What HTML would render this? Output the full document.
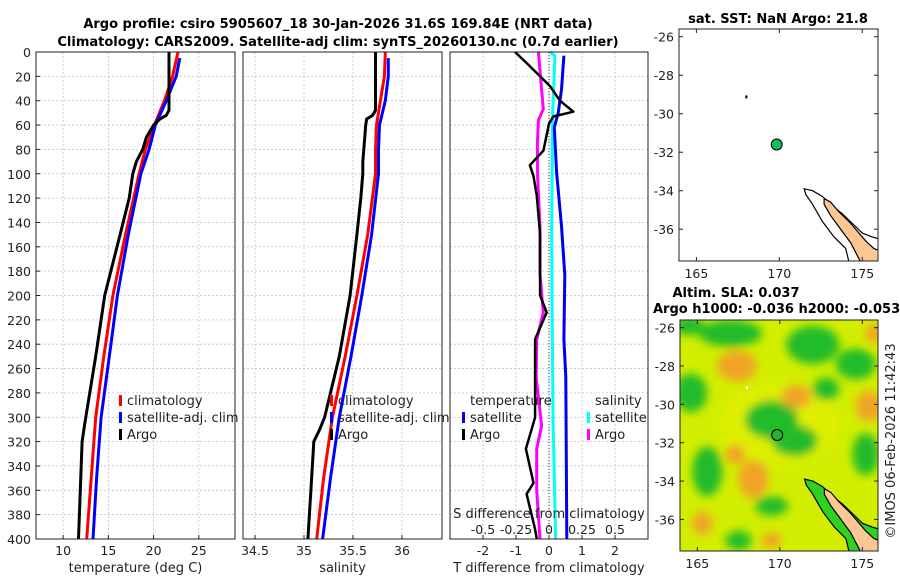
<!DOCTYPE html>
<html><head><meta charset="utf-8"><style>
html,body{margin:0;padding:0;background:#fff;}
svg{display:block;font-family:"DejaVu Sans","Liberation Sans",sans-serif;}
</style></head><body>
<svg id="chart" width="900" height="580" viewBox="0 0 900 580" xmlns="http://www.w3.org/2000/svg">
<defs>
<filter id="blur" x="-20%" y="-20%" width="140%" height="140%"><feGaussianBlur stdDeviation="4.5"/></filter>
<clipPath id="clipMap1"><rect x="679" y="29" width="199" height="232"/></clipPath>
<clipPath id="clipMap2"><rect x="680" y="320" width="198" height="231"/></clipPath>
</defs>
<g font-weight="bold" font-size="13" text-anchor="middle" fill="#000">
<text x="338" y="28">Argo profile: csiro 5905607_18 30-Jan-2026 31.6S 169.84E (NRT data)</text>
<text x="338" y="46">Climatology: CARS2009. Satellite-adj clim: synTS_20260130.nc (0.7d earlier)</text>
</g>
<g id="plots"></g>
</svg>
<script>
// depth levels (m)
const depthT = [0,5,20,40,48,52,55,60,70,80,90,100,120,150,200,250,300,310,320,360,400];
const argoTemp = [21.7,21.7,21.7,21.7,21.7,21.4,20.7,20.0,19.2,18.8,18.1,17.7,17.3,16.3,14.6,13.6,12.5,12.3,12.1,11.9,11.7];
const climDepth = [0,20,40,60,80,100,150,200,250,300,350,400];
const climTemp = [22.7,22.1,21.2,20.1,19.1,18.4,16.9,15.5,14.5,13.6,13.1,12.6];
const satTempDepth = [5,20,40,60,80,100,150,200,250,300,350,400];
const satTemp = [22.9,22.5,21.4,20.2,19.5,18.6,17.2,16.0,15.1,14.2,13.7,13.3];
const argoSal = [35.73,35.73,35.73,35.73,35.73,35.70,35.64,35.63,35.62,35.61,35.60,35.60,35.58,35.54,35.47,35.36,35.21,35.16,35.10,35.07,35.04];
const climSal = [35.83,35.82,35.78,35.74,35.73,35.73,35.65,35.54,35.42,35.29,35.20,35.13];
const satSal = [35.86,35.86,35.83,35.77,35.76,35.76,35.69,35.59,35.48,35.36,35.27,35.19];
// difference panel
const diffDepthTA = [0,9,28,40,49,53,59,81,93,102,118,150,200,214,236,270,300,326,354,363,391,400];
const diffTempArgo = [-1.03,-0.68,0.03,0.33,0.74,0.13,0.0,-0.17,-0.58,-0.47,-0.37,-0.27,-0.27,-0.07,-0.42,-0.42,-0.42,-0.7,-0.47,-0.68,-0.43,-0.37];
const diffDepthTS = [3,31,50,62,99,143,183,236,267,400];
const diffTempSat = [0.45,0.38,0.28,0.16,0.23,0.38,0.48,0.45,0.51,0.54];
const diffDepthSA = [0,47,56,75,102,143,183,214,236,267,307,326,360,400];
const diffSalArgo = [-0.08,-0.043,-0.08,-0.088,-0.086,-0.068,-0.068,-0.043,-0.093,-0.098,-0.056,-0.093,-0.093,-0.068];
const diffDepthSS = [0,3,50,150,300,400];
const diffSalSat = [0.008,0.045,0.028,0.02,0.03,0.05];
const depthTicks = [0,20,40,60,80,100,120,140,160,180,200,220,240,260,280,300,320,340,360,380,400];
const tempTicks = [10,15,20,25];
const salTicks = [34.5,35,35.5,36];
const diffTicks = [-2,-1,0,1,2];
const sdiffTicks = [-0.5,-0.25,0,0.25,0.5];
const latTicks = [-26,-28,-30,-32,-34,-36];
const lonTicks = [165,170,175];
const argoLon = 169.84, argoLat = -31.6;
const greenBlobs = [[169.5,-30.8,1.6,1.0],[170.9,-31.9,1.4,0.8],[165.6,-33.5,0.9,1.3],[164.6,-29.4,1.0,1.0],[167,-26.3,1.9,0.7],[172,-26.9,1.6,1.0],[174.6,-27.9,1.2,0.8],[172.8,-29.2,0.8,0.6],[175.2,-32.6,0.8,1.1],[169.5,-35.3,1.0,0.5],[167.5,-37.1,0.8,0.5],[164.5,-25.9,0.9,0.5]];
const orangeBlobs = [[167.4,-28,1.2,0.8],[171,-29.6,0.9,0.6],[168.4,-33.9,0.9,1.0],[175.4,-30.1,0.8,0.8],[175.7,-26.3,0.5,0.5],[165.3,-36.2,0.6,0.6],[167.3,-32.6,0.6,0.5],[169.5,-37.1,0.6,0.4]];
const shelfLine = [[171.5,-33.9],[172.0,-34.0],[172.6,-34.3],[173.2,-34.8],[173.8,-35.2],[174.4,-35.7],[175.0,-36.2],[175.6,-36.4],[176,-36.5],[176,-37.7],[174.2,-37.7],[174.0,-37.0],[173.3,-36.4],[172.6,-35.6],[172.0,-34.7],[171.6,-34.2]];
const landPoly = [[172.7,-34.4],[173.1,-34.6],[173.6,-35.1],[174.2,-35.6],[174.7,-36.1],[175.2,-36.6],[175.7,-37.0],[176,-37.1],[176,-37.7],[174.9,-37.7],[174.6,-37.2],[174.3,-36.7],[173.7,-36.0],[173.1,-35.3],[172.7,-34.7]];

const NS='http://www.w3.org/2000/svg';
const root=document.getElementById('plots');
function el(tag,attrs,parent,text){const e=document.createElementNS(NS,tag);for(const k in attrs)e.setAttribute(k,attrs[k]);if(text!==undefined)e.textContent=text;(parent||root).appendChild(e);return e;}
const Y0=52,Y1=539;
function yD(d){return Y0+(d/400)*(Y1-Y0);}
function lin(d0,d1,p0,p1){return v=>p0+(v-d0)/(d1-d0)*(p1-p0);}

function panel(name,x0,x1,xs,ticks,fmt,label){
  const g=el('g',{});
  
  
  ticks.forEach(t=>{const gl=el('line',{x1:xs(t),x2:xs(t),y1:Y0,y2:Y1,stroke:'#b8c4e8','stroke-width':0.8,'stroke-dasharray':'2,2'},g);});
  depthTicks.forEach(d=>{const gl=el('line',{x1:x0,x2:x1,y1:yD(d),y2:yD(d),stroke:'#b8c4e8','stroke-width':0.8,'stroke-dasharray':'2,2'},g);});
  ticks.forEach(t=>{
    el('line',{x1:xs(t),x2:xs(t),y1:Y1,y2:Y1-4,stroke:'#222'},g);
    const tl=el('text',{x:xs(t),y:Y1+16,'font-size':12.5,'text-anchor':'middle',fill:'#222'},g,fmt(t));
    
  });
  const xl=el('text',{x:(x0+x1)/2,y:572,'font-size':13,'text-anchor':'middle',fill:'#222'},g,label);
  
  return g;
}
function line(g,xs,vals,depths,color,name,w){
  const p=vals.map((v,i)=>xs(v).toFixed(1)+','+yD(depths[i]).toFixed(1)).join(' ');
  const l=el('polyline',{points:p,fill:'none',stroke:color,'stroke-width':w||3,'stroke-linejoin':'round'},g);
  
}
function frame(g,x0,x1){const f=el('rect',{x:x0,y:Y0,width:x1-x0,height:Y1-Y0,fill:'none',stroke:'#222','stroke-width':1},g);}
function legendItem(g,x,y,color,txt){
  const b=el('rect',{x:x,y:y-10,width:3,height:11,fill:color},g);
  
  const t=el('text',{x:x+8,y:y,'font-size':13,fill:'#222'},g,txt);
  
}

const xT=lin(7,29,36,235);
const g1=panel('temperature-panel',36,235,xT,tempTicks,String,'temperature (deg C)');
depthTicks.forEach(d=>{el('line',{x1:36,x2:40,y1:yD(d),y2:yD(d),stroke:'#222'},g1);const t=el('text',{x:31,y:yD(d)+5,'font-size':12.5,'text-anchor':'end',fill:'#222'},g1,String(d));});
line(g1,xT,climTemp,climDepth,'#f00','clim-temp-line');
line(g1,xT,satTemp,satTempDepth,'#00f','sat-temp-line');
line(g1,xT,argoTemp,depthT,'#000','argo-temp-line');
frame(g1,36,235);
legendItem(g1,119,405,'#f00','climatology');
legendItem(g1,119,422,'#00f','satellite-adj. clim');
legendItem(g1,119,439,'#000','Argo');

const xS=lin(34.5,36,255,402);
const g2=panel('salinity-panel',243,442,xS,salTicks,String,'salinity');
line(g2,xS,climSal,climDepth,'#f00','clim-sal-line');
line(g2,xS,satSal,satTempDepth,'#00f','sat-sal-line');
line(g2,xS,argoSal,depthT,'#000','argo-sal-line');
frame(g2,243,442);
legendItem(g2,330,405,'#f00','climatology');
legendItem(g2,330,422,'#00f','satellite-adj. clim');
legendItem(g2,330,439,'#000','Argo');

const xD=lin(-3,3,450,648);
const xSD=v=>xD(v*4);
const g3=panel('difference-panel',450,648,xD,diffTicks,String,'T difference from climatology');
const zl=el('line',{x1:xD(0),x2:xD(0),y1:Y0,y2:Y1,stroke:'#333','stroke-width':1,'stroke-dasharray':'1,2'},g3);

line(g3,xSD,diffSalSat,diffDepthSS,'#0ff','sal-sat-diff-line');
line(g3,xD,diffTempSat,diffDepthTS,'#00e','temp-sat-diff-line');
line(g3,xSD,diffSalArgo,diffDepthSA,'#f0f','sal-argo-diff-line');
line(g3,xD,diffTempArgo,diffDepthTA,'#000','temp-argo-diff-line',2.5);
frame(g3,450,648);
{const t=el('text',{x:470,y:405,'font-size':13,fill:'#222'},g3,'temperature');}
legendItem(g3,462,422,'#00e','satellite');
legendItem(g3,462,439,'#000','Argo');
{const t=el('text',{x:595,y:405,'font-size':13,fill:'#222'},g3,'salinity');}
legendItem(g3,587,422,'#0ff','satellite');
legendItem(g3,587,439,'#f0f','Argo');
{const t=el('text',{x:549,y:518,'font-size':13,'text-anchor':'middle',fill:'#222'},g3,'S difference from climatology');}
sdiffTicks.forEach(s=>{const t=el('text',{x:xSD(s),y:534,'font-size':12.5,'text-anchor':'middle',fill:'#222'},g3,String(s));});

function map(name,x0,y0,w,h,clip,field){
  const lx=lin(163.95,175.95,x0,x0+w), ly=lin(-25.6,-37.65,y0,y0+h);
  const g=el('g',{});
  
  const inner=el('g',{'clip-path':'url(#'+clip+')'},g);
  el('rect',{x:x0,y:y0,width:w,height:h,fill:field?'#d2ee00':'#fff'},inner);
  if(field){
    const fb=el('g',{filter:'url(#blur)'},inner);
    
    el('ellipse',{cx:lx(170),cy:ly(-31),rx:60,ry:40,fill:'#e8f000',opacity:0.6},fb);
    greenBlobs.forEach(b=>{const e=el('ellipse',{cx:lx(b[0]),cy:ly(b[1]),rx:b[2]*16.6,ry:b[3]*19.2,fill:'#22bb2a'},fb);});
    orangeBlobs.forEach(b=>{const e=el('ellipse',{cx:lx(b[0]),cy:ly(b[1]),rx:b[2]*16.6,ry:b[3]*19.2,fill:'#f2a328'},fb);});
  }
  const sh=el('polygon',{points:shelfLine.map(p=>lx(p[0])+','+ly(p[1])).join(' '),fill:field?'#30d020':'none',stroke:'#000','stroke-width':1.2},inner);
  
  const ld=el('polygon',{points:landPoly.map(p=>lx(p[0])+','+ly(p[1])).join(' '),fill:'#fdc794',stroke:'#000','stroke-width':1.2},inner);
  
  el('rect',{x:lx(167.95),y:ly(-29.05),width:2,height:3,fill:field?'#fff':'#000'},inner);
  const dot=el('circle',{cx:lx(argoLon),cy:ly(argoLat),r:5.5,fill:field?'#30b030':'#18b860',stroke:'#000','stroke-width':1},inner);
  
  el('rect',{x:x0,y:y0,width:w,height:h,fill:'none',stroke:'#222'},g);
  latTicks.forEach(t=>{el('line',{x1:x0,x2:x0+4,y1:ly(t),y2:ly(t),stroke:'#222'},g);el('line',{x1:x0+w,x2:x0+w-4,y1:ly(t),y2:ly(t),stroke:'#222'},g);const tl=el('text',{x:x0-5,y:ly(t)+5,'font-size':12.5,'text-anchor':'end',fill:'#222'},g,String(t));});
  lonTicks.forEach(t=>{el('line',{x1:lx(t),x2:lx(t),y1:y0+h,y2:y0+h-4,stroke:'#222'},g);el('line',{x1:lx(t),x2:lx(t),y1:y0,y2:y0+4,stroke:'#222'},g);const tl=el('text',{x:lx(t),y:y0+h+17,'font-size':12.5,'text-anchor':'middle',fill:'#222'},g,String(t));});
  return g;
}
map('sst-map',679,29,199,232,'clipMap1',false);
map('sla-map',680,320,198,231,'clipMap2',true);
{const t=el('text',{x:778,y:23,'font-size':13,'font-weight':'bold','text-anchor':'middle',fill:'#000'},root,'sat. SST: NaN Argo: 21.8');}
{const t=el('text',{x:736,y:297,'font-size':13,'font-weight':'bold','text-anchor':'middle',fill:'#000'},root,'Altim. SLA: 0.037');}
{const t=el('text',{x:653,y:313,'font-size':13,'font-weight':'bold',fill:'#000'},root,'Argo h1000: -0.036 h2000: -0.053');}
{const t=el('text',{x:0,y:0,'font-size':13,'text-anchor':'middle',fill:'#222',transform:'translate(895,441) rotate(-90)'},root,'©IMOS 06-Feb-2026 11:42:43');}
</script>
</body></html>
